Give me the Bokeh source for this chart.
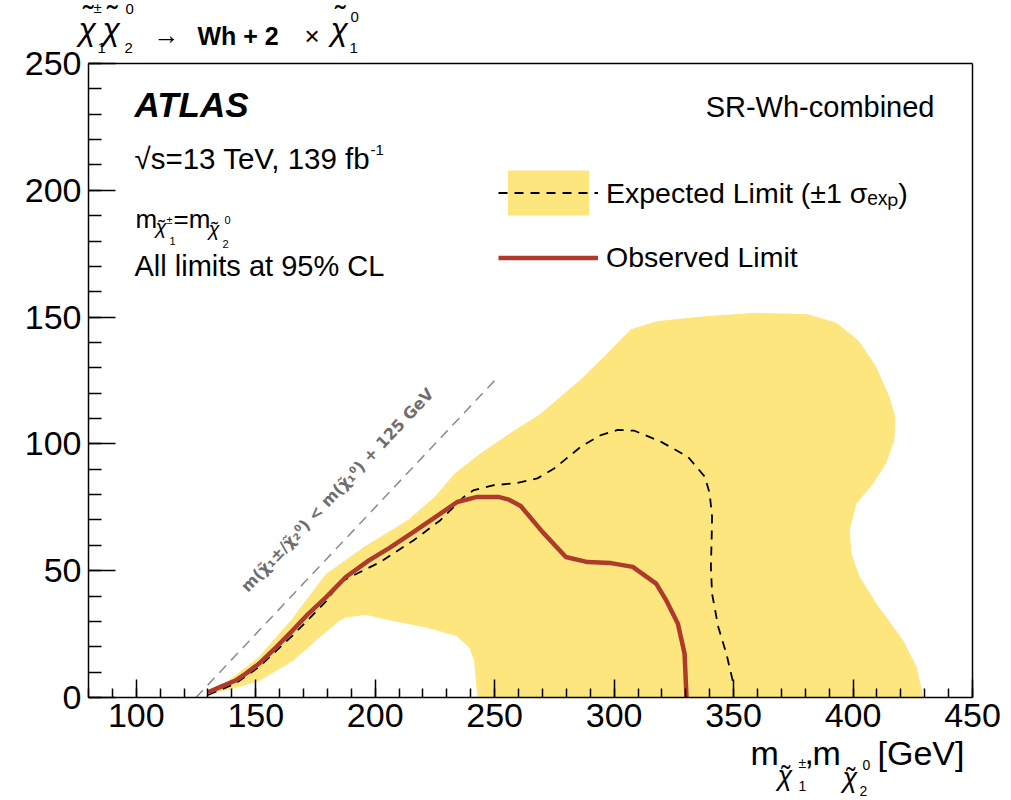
import math
from bokeh.plotting import figure
from bokeh.models import Label, Legend, LegendItem, Range1d, FixedTicker, LinearAxis
from bokeh.embed import file_html
from bokeh.resources import INLINE

# ---------------- data ----------------
obs_x = [130, 136, 141.5, 146, 151.3, 158.7, 165.5, 172, 179.5, 187.7, 197.4, 206, 216.1,
         227.3, 234.3, 242.7, 251.5, 256, 260.9, 270, 279.8, 288.9, 298.7, 307.8, 317.6,
         322, 326.7, 329.5, 330.3]
obs_y = [2, 4.5, 6.7, 9.5, 13.3, 20, 26.5, 33, 39.6, 47.5, 54.1, 59, 65.3,
         72.5, 77.1, 79.1, 79.1, 78, 75.5, 65.3, 55.4, 53.4, 53.0, 51.5, 44.9,
         38, 29.1, 17.2, 0]

exp_x = [130, 141.5, 151.3, 165.5, 179.5, 185.3, 202.1, 216.1, 227.3, 237.1, 241.3, 249.7,
         259.5, 267.9, 274.9, 286.1, 294.5, 301.5, 308.5, 319.7, 330.9, 338, 340, 341,
         340.8, 340.5, 341, 343.6, 347, 350.3]
exp_y = [1, 5.5, 12, 24.5, 38, 45.5, 53.4, 62, 69.9, 79.1, 81.8, 83.7,
         84.6, 86.4, 90.3, 98.9, 103.5, 105.5, 105.2, 100.8, 94.9, 87, 80.4, 71.2,
         62, 51.5, 40.9, 27.8, 17.2, 4]

band_x = [129, 140, 151, 165, 179.4, 195.7, 213.9, 225, 233.5, 244, 258, 269, 286, 296,
          307, 318, 339, 360, 381, 393, 402.4, 409.4, 415, 417.5, 417.1, 413.6, 408.2,
          401.2, 398.4, 399.1, 402.6, 409.6, 420.8, 426.4, 429.2,
          243, 241.6, 239.5, 233.9, 221.3, 207.3, 196.1, 187.7, 184.9, 176.5, 165.5,
          151.3, 140, 130.9]
band_y = [0, 7.5, 15.5, 30.5, 48.5, 59.4, 69.9, 79, 88.3, 96, 105, 111.5, 125.2, 134.4,
          145, 148.2, 150.2, 151.5, 150.9, 147.6, 140.4, 130.5, 118.6, 110.7, 101.5, 92.3, 84.4,
          76.4, 66, 56.7, 47.5, 37, 22.5, 12, 0,
          0, 14.6, 19.9, 24.5, 27.8, 30.4, 32.8, 31.7, 30.4, 23.8, 14.6,
          6.7, 3.5, 1.5]

kin_x = [125, 250]          # m(chi2) = m(chi1) + 125 GeV
kin_offset = 125

x_lim = (80, 450)
y_lim = (0, 250)
x_ticks = [100, 150, 200, 250, 300, 350, 400, 450]
y_ticks = [0, 50, 100, 150, 200, 250]

FONT = "Liberation Sans"
YELLOW = "#fde67e"
RED = "#ad3a2a"

# page geometry of the plot box (pixels)
PX0, PX1, PY0, PY1 = 88, 972, 697, 63
W, H = 1011, 800


def X(px):
    return x_lim[0] + (px - PX0) * (x_lim[1] - x_lim[0]) / (PX1 - PX0)


def Y(py):
    return y_lim[0] + (PY0 - py) * (y_lim[1] - y_lim[0]) / (PY0 - PY1)


p = figure(width=W, height=H, output_backend="svg", toolbar_location=None,
           x_range=Range1d(X(0), X(W)), y_range=Range1d(Y(H), Y(0)),
           x_axis_location=None, y_axis_location=None, min_border=0)
p.grid.visible = False
p.outline_line_color = None
p.background_fill_color = "white"
p.border_fill_color = "white"


def make_axis(loc, bounds, ticks, minors, tin, mtin, labels=True):
    ax = LinearAxis(fixed_location=loc, bounds=bounds,
                    ticker=FixedTicker(ticks=ticks, minor_ticks=minors))
    ax.major_tick_in = tin
    ax.major_tick_out = 0
    ax.minor_tick_in = mtin
    ax.minor_tick_out = 0
    ax.axis_line_width = 1.5
    ax.axis_line_color = "black"
    ax.major_tick_line_width = 1.5
    ax.minor_tick_line_width = 1.5
    ax.major_label_text_font = FONT
    ax.major_label_text_font_size = "34px"
    ax.major_label_text_color = "black"
    if not labels:
        ax.major_label_text_alpha = 0
    return ax


xax = make_axis(y_lim[0], x_lim, x_ticks, list(range(80, 451, 10)), 18, 9)
xax.major_label_standoff = 6
yax = make_axis(x_lim[0], y_lim, y_ticks, list(range(0, 251, 10)), 27, 13)
yax.major_label_standoff = 7
tax = make_axis(y_lim[1], x_lim, [], [], 0, 0, labels=False)
rax = make_axis(x_lim[1], y_lim, [], [], 0, 0, labels=False)
p.add_layout(xax, "below")
p.add_layout(yax, "left")
p.add_layout(tax, "above")
p.add_layout(rax, "right")

band_r = p.patch(band_x, band_y, fill_color=YELLOW, line_color=YELLOW, line_width=1)
kin_r = p.line(kin_x, [v - kin_offset for v in kin_x], line_color="#8c8c8c",
               line_width=1.5, line_dash="10 7")
exp_r = p.line(exp_x, exp_y, line_color="black", line_width=1.8, line_dash="9 7")
obs_r = p.line(obs_x, obs_y, line_color=RED, line_width=4.5)

legend = Legend(items=[LegendItem(label="Expected Limit (±1 σₑₓₚ)", renderers=[band_r, exp_r]),
                       LegendItem(label="Observed Limit", renderers=[obs_r])],
                location=(498, H - 284.5), glyph_width=100, glyph_height=55, spacing=10,
                padding=0, margin=0, label_standoff=8, label_text_font=FONT,
                label_text_font_size="28.5px", label_text_color="black",
                border_line_alpha=0, background_fill_alpha=0)
p.add_layout(legend)

SHIFT = 0.38  # empirical baseline correction (fraction of font size)


def lab(s, px, py, size, style="normal", color="black", align="left", angle=0.0, font=FONT):
    off = SHIFT * size
    qx = px - off * math.sin(angle)
    qy = py - off * math.cos(angle)
    p.add_layout(Label(x=X(qx), y=Y(qy), text=s, text_font=font, text_font_size=f"{size}px",
                       text_font_style=style, text_color=color, text_align=align,
                       text_baseline="alphabetic", angle=angle))


def chi(px, base, size, lift=0.0):
    lab("χ", px, base, size, style="italic")
    lab("˜", px + 0.14 * size, base - lift, size)


# process title
chi(78, 41, 32, lift=12)
lab("±", 93, 13, 15)
lab("1", 97, 53, 15)
chi(102, 41, 32, lift=12)
lab("0", 125, 14, 15)
lab("2", 124, 53, 15)
lab("→", 153, 44, 26)
lab("Wh + 2", 197, 45, 25, style="bold")
lab("×", 304, 45, 26)
chi(330, 41, 32, lift=12)
lab("0", 350, 22, 15)
lab("1", 349, 53, 15)

# ATLAS block
lab("ATLAS", 134, 117, 35, style="bold italic")
lab("√s=13 TeV, 139 fb", 134, 169, 29.5)
lab("-1", 370, 155, 15)
lab("m", 135, 228, 26)
chi(155, 234, 20)
lab("±", 166, 224, 11)
lab("1", 169, 245, 11)
lab("=m", 173, 228, 26)
chi(208, 236, 20)
lab("0", 224, 224, 11)
lab("2", 222, 248, 11)
lab("All limits at 95% CL", 134, 277, 29)

lab("SR-Wh-combined", 934, 118, 29, align="right")

# diagonal label
lab("m(χ̃₁±/χ̃₂⁰) < m(χ̃₁⁰) + 125 GeV", 248, 593, 16,
    style="bold", color="#6e6e6e", angle=0.816, font="DejaVu Sans")

# x axis title
lab("m", 750, 765, 34)
chi(777, 786, 27)
lab("±", 798, 768, 14)
lab("1", 798, 791, 14)
lab(",", 804, 765, 34)
lab("m", 812, 765, 34)
chi(842, 788, 27)
lab("0", 862, 770, 14)
lab("2", 859, 796, 14)
lab("[GeV]", 877, 765, 34)

open("out.html", "w").write(file_html(p, INLINE))
